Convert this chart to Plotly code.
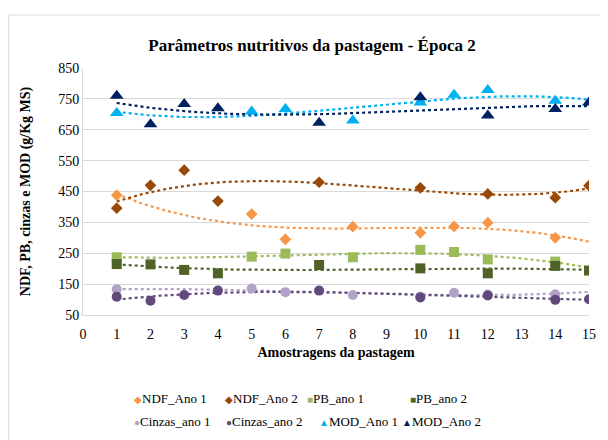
import numpy as np
import plotly.graph_objects as go

# ---- data ----
x_ano1 = [1, 5, 6, 8, 10, 11, 12, 14]
x_ano2 = [1, 2, 3, 4, 7, 10, 12, 14, 15]

ndf_ano1 = [438, 377, 295, 336, 316, 337, 349, 300]
ndf_ano2 = [396, 470, 519, 419, 480, 462, 442, 430, 469]
pb_ano1 = [237, 239, 249, 237, 261, 254, 230, 223]
pb_ano2 = [215, 214, 196, 185, 212, 201, 185, 209, 194]
cinzas_ano1 = [133, 136, 124, 115, 110, 122, 116, 117]
cinzas_ano2 = [109, 96, 115, 129, 129, 107, 113, 99, 101]
mod_ano1 = [704, 709, 717, 680, 738, 763, 779, 744]
mod_ano2 = [760, 668, 733, 720, 673, 755, 696, 717, 738]

series_names = ["NDF_Ano 1", "NDF_Ano 2", "PB_ano 1", "PB_ano 2",
                "Cinzas_ano 1", "Cinzas_ano 2", "MOD_Ano 1", "MOD_Ano 2"]
x_tick_vals = list(range(0, 16))
y_tick_vals = list(range(50, 851, 100))

# ---- styles ----
styles = [
    ("#F79646", "diamond", 9, "◆"),
    ("#984807", "diamond", 9, "◆"),
    ("#9BBB59", "square", 10, "■"),
    ("#4F6228", "square", 10, "■"),
    ("#B3A2C7", "circle", 10, "●"),
    ("#604A7B", "circle", 10, "●"),
    ("#00B0F0", "triangle-up", 12, "▲"),
    ("#002060", "triangle-up", 12, "▲"),
]
xs = [x_ano1, x_ano2] * 4
ys = [ndf_ano1, ndf_ano2, pb_ano1, pb_ano2, cinzas_ano1, cinzas_ano2, mod_ano1, mod_ano2]

FONT = "Liberation Serif, Times New Roman, serif"

# page body has an 8px margin: compensate so the plot lands where the reference has it
OFF = 8
W, H = 608 - OFF, 440 - OFF
PL, PR, PT, PB = 83, 591, 68, 315  # plot area in page pixels


def px(xp):
    return (xp - PL) / (PR - PL)


def py(yp):
    return (PB - yp) / (PB - PT)


fig = go.Figure()

# trend lines (cubic polynomial fits), drawn below the markers
xx = np.linspace(1, 15, 200)
for (col, sym, sz, g), x, y in zip(styles, xs, ys):
    coef = np.polyfit(x, y, 3)
    fig.add_trace(go.Scatter(x=xx, y=np.polyval(coef, xx), mode="lines",
                             line=dict(color=col, width=2.2, dash="dot"),
                             showlegend=False, hoverinfo="skip"))

for name, (col, sym, sz, g), x, y in zip(series_names, styles, xs, ys):
    fig.add_trace(go.Scatter(x=x, y=y, mode="markers", name=name, showlegend=False,
                             marker=dict(color=col, symbol=sym, size=sz,
                                         line=dict(width=0))))

# legend drawn as text entries, laid out like the reference (two rows of four)
leg_pos = [(132, 398), (224, 398), (306, 398), (409, 398),
           (132, 421), (225, 421), (318, 421), (401, 421)]
annotations = []
for name, (col, sym, sz, g), (lx, ly) in zip(series_names, styles, leg_pos):
    annotations.append(dict(
        text=f'<span style="color:{col};font-size:10px">{g}</span>{name}',
        x=px(lx), y=py(ly), xref="paper", yref="paper",
        xanchor="left", yanchor="middle", showarrow=False,
        font=dict(family=FONT, size=13, color="black")))

fig.update_layout(
    width=W, height=H,
    margin=dict(l=PL - OFF, r=608 - PR, t=PT - OFF, b=440 - PB),
    paper_bgcolor="white", plot_bgcolor="white",
    font=dict(family=FONT, size=14, color="black"),
    showlegend=False,
    title=dict(text="<b>Parâmetros nutritivos da pastagem - Época 2</b>",
               x=(312 - OFF) / W, xanchor="center", y=1 - (45 - OFF) / H,
               yanchor="middle", font=dict(family=FONT, size=17, color="black")),
    xaxis=dict(range=[0, 15], tickvals=x_tick_vals, showgrid=False,
               showline=True, linecolor="#D9D9D9", linewidth=1, ticks="",
               zeroline=False, tickfont=dict(family=FONT, size=14),
               ticklabelstandoff=6,
               title=dict(text="<b>Amostragens da pastagem</b>", standoff=6,
                          font=dict(family=FONT, size=14))),
    yaxis=dict(range=[50, 850], tickvals=y_tick_vals, showgrid=True,
               gridcolor="#D9D9D9", gridwidth=1, showline=True,
               linecolor="#D9D9D9", ticks="", zeroline=False,
               tickfont=dict(family=FONT, size=14),
               title=dict(text="<b>NDF, PB, cinzas e MOD (g/Kg MS)</b>", standoff=24,
                          font=dict(family=FONT, size=14))),
    annotations=annotations,
    shapes=[dict(type="rect", xref="paper", yref="paper",
                 x0=px(8.5), x1=px(660), y0=py(480), y1=py(15),
                 line=dict(color="#D9D9D9", width=1), fillcolor="rgba(0,0,0,0)",
                 layer="below")],
)

fig.write_html("out.html")
